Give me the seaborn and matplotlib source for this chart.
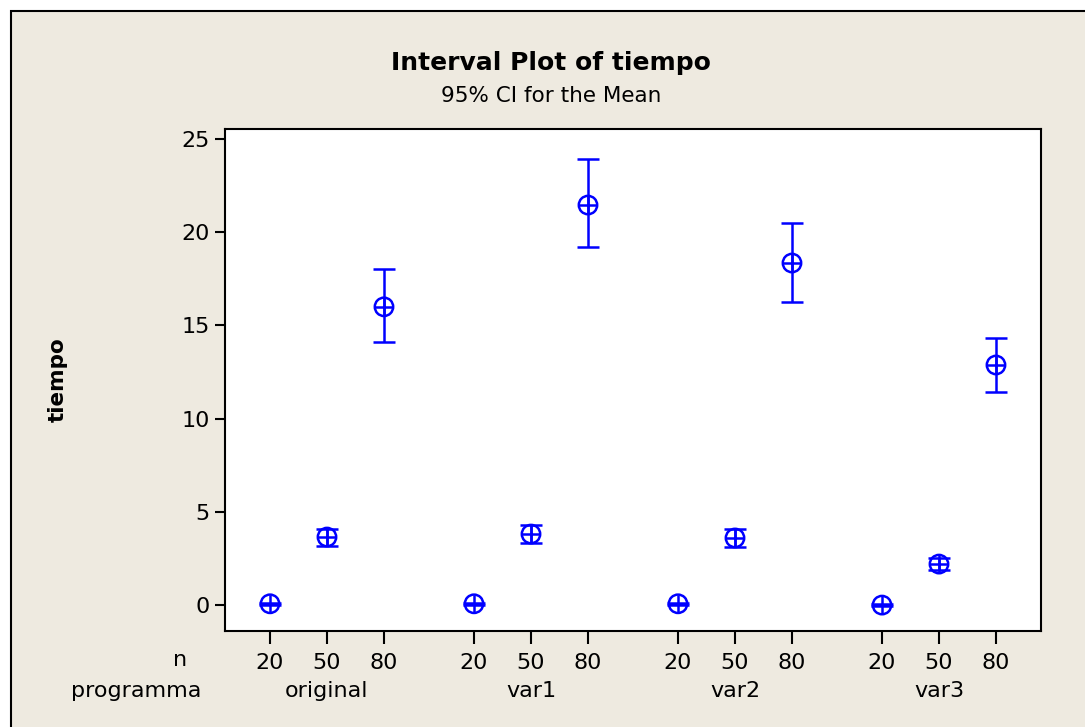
import matplotlib
matplotlib.use("Agg")
import matplotlib.pyplot as plt
import matplotlib.transforms as mtransforms
from matplotlib.patches import Rectangle
import seaborn as sns
import pandas as pd
import numpy as np

# ---- data ----
programs = ["original", "var1", "var2", "var3"]
n_levels = ["20", "50", "80"]
means = [0.07, 3.65, 16.0,
         0.07, 3.81, 21.46,
         0.07, 3.60, 18.35,
         0.0, 2.20, 12.88]
ci_low = [0.02, 3.15, 14.12,
          0.02, 3.31, 19.20,
          0.02, 3.13, 16.26,
          -0.05, 1.88, 11.43]
ci_high = [0.12, 4.10, 18.05,
           0.12, 4.31, 23.93,
           0.12, 4.06, 20.49,
           0.05, 2.52, 14.34]

sns.set_theme(style="white")
plt.rcParams['font.family'] = ['DejaVu Sans']
plt.rcParams['text.color'] = 'black'
plt.rcParams['axes.labelcolor'] = 'black'
plt.rcParams['xtick.color'] = 'black'
plt.rcParams['ytick.color'] = 'black'

group_gap = 3.58
rows = []
for gi, p in enumerate(programs):
    for li, n in enumerate(n_levels):
        k = gi * 3 + li
        rows.append(dict(programma=p, n=n, pos=gi * group_gap + li,
                         mean=means[k], lo=ci_low[k], hi=ci_high[k]))
df = pd.DataFrame(rows)

W, H = 1085, 727
fig = plt.figure(figsize=(W / 100, H / 100), dpi=100)
fig.patch.set_facecolor("white")
bg = Rectangle((11 / W, -0.1), 1.2, 1 - 11 / H + 0.1, transform=fig.transFigure,
               facecolor="#EEEAE0", edgecolor="black", linewidth=1.5, zorder=-10)
fig.patches.append(bg)

ax = fig.add_axes([225 / W, 1 - 631 / H, (1041 - 225) / W, (631 - 129) / H])
ax.set_facecolor("white")

blue = "#0000FF"
ax.errorbar(df["pos"], df["mean"],
            yerr=[df["mean"] - df["lo"], df["hi"] - df["mean"]],
            fmt="none", ecolor=blue, elinewidth=1.8, capsize=8, capthick=1.8, zorder=2)
sns.scatterplot(data=df, x="pos", y="mean", ax=ax, marker="o", s=175,
                facecolors="none", edgecolor=blue, linewidth=1.8, zorder=3, legend=False)
sns.scatterplot(data=df, x="pos", y="mean", ax=ax, marker="+", s=175,
                color=blue, linewidth=1.8, zorder=4, legend=False)

ax.set_xlim(-0.79, 13.53)
ax.set_ylim(-1.39, 25.54)
ax.set_yticks([0, 5, 10, 15, 20, 25])
ax.set_yticklabels(["0", "5", "10", "15", "20", "25"], fontsize=16)
ax.set_xticks(df["pos"])
ax.set_xticklabels(df["n"], fontsize=16)
ax.tick_params(axis="y", direction="out", length=7, width=1.5, pad=4, left=True, colors="black")
ax.tick_params(axis="x", direction="out", length=9, width=1.5, pad=7, bottom=True, colors="black")
for s in ax.spines.values():
    s.set_visible(True)
    s.set_color("black")
    s.set_linewidth(1.5)
ax.set_xlabel("")
ax.set_ylabel("tiempo", fontsize=15.5, fontweight="bold", labelpad=0)
ax.yaxis.set_label_coords((58 - 225) / (1041 - 225), 0.5)
ax.yaxis.label.set_verticalalignment("center")

# row labels
fig.text(187 / W, 1 - 660 / H, "n", ha="right", va="center", fontsize=16)
fig.text(201 / W, 1 - 691 / H, "programma", ha="right", va="center", fontsize=16)
trans = mtransforms.blended_transform_factory(ax.transData, fig.transFigure)
for gi, p in enumerate(programs):
    ax.text(gi * group_gap + 1, 1 - 691 / H, p, transform=trans, ha="center", va="center", fontsize=16)

fig.text(551 / W, 1 - 63 / H, "Interval Plot of tiempo", ha="center", va="center",
         fontsize=18, fontweight="bold")
fig.text(551 / W, 1 - 96 / H, "95% CI for the Mean", ha="center", va="center", fontsize=15.5)

fig.savefig("out.png", dpi=100, facecolor=fig.get_facecolor())
